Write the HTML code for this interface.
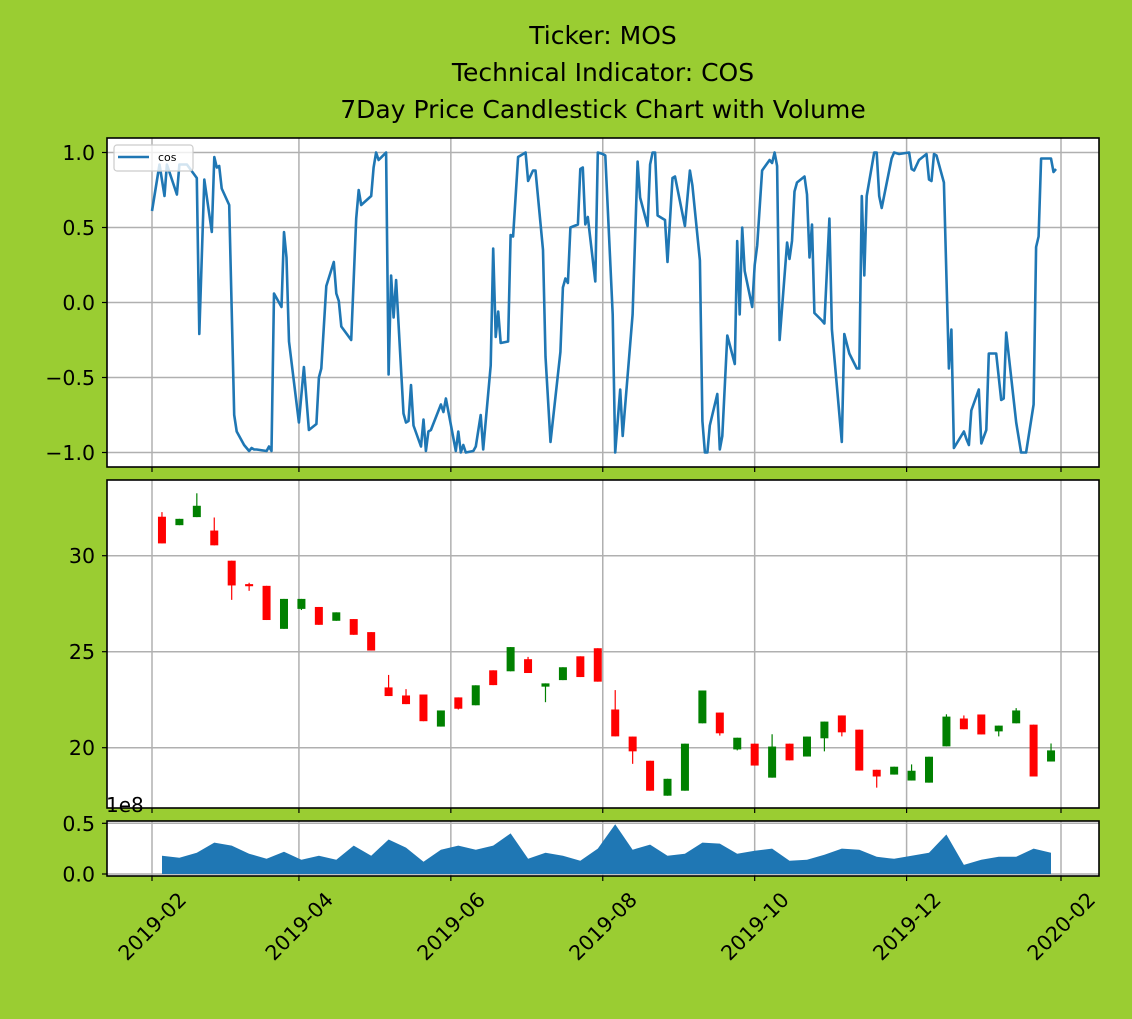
<!DOCTYPE html>
<html><head><meta charset="utf-8"><style>
html,body{margin:0;padding:0;background:#9acd32;}
svg{display:block;font-family:"DejaVu Sans","Liberation Sans",sans-serif;}
</style></head><body>
<svg id="chart" width="1132" height="1019" viewBox="0 0 1132 1019" xmlns="http://www.w3.org/2000/svg">
<rect x="0" y="0" width="1132" height="1019" fill="#9acd32"/>
<g font-size="25" text-anchor="middle" fill="#000">
<text x="603" y="44">Ticker: MOS</text>
<text x="603" y="81">Technical Indicator: COS</text>
<text x="603" y="118">7Day Price Candlestick Chart with Volume</text>
</g>
<g id="root"></g>
</svg>
<script>
// ---- data ----
const cosDays=[31,34,36,37,38,41,42,45,49,50,52,55,56,57,58,59,62,64,65,68,70,71,72,73,77,78,79,80,83,84,85,86,90,92,94,97,98,99,101,104,105,106,107,111,113,114,115,119,120,121,122,125,126,127,128,129,132,133,134,135,136,139,140,141,142,143,147,148,149,153,154,155,156,157,160,161,163,164,167,168,169,170,171,174,175,176,178,181,182,184,185,188,189,191,195,196,197,198,199,202,203,204,205,206,209,210,212,213,216,217,219,220,224,226,227,230,231,232,233,234,237,238,240,241,245,247,248,251,252,253,254,255,258,259,260,262,265,266,267,268,269,272,273,274,276,279,280,281,282,283,286,287,288,289,290,293,294,295,296,297,300,301,303,304,308,309,311,314,315,316,317,318,321,322,323,324,328,329,331,335,336,337,339,342,343,344,345,346,349,351,352,353,357,358,359,360,363,364,366,367,370,372,373,374,378,380,382,385,386,387,388,392,393,394];
const cosVals=[.61,.92,.71,.92,.87,.72,.92,.92,.83,-.21,.82,.47,.97,.90,.91,.76,.65,-.75,-.86,-.95,-.99,-.97,-.98,-.98,-.99,-.96,-.99,.06,-.03,.47,.30,-.26,-.80,-.43,-.85,-.81,-.50,-.44,.11,.27,.06,.01,-.16,-.25,.56,.75,.65,.71,.90,1.0,.95,1.0,-.48,.18,-.10,.15,-.74,-.80,-.79,-.55,-.82,-.96,-.78,-.99,-.86,-.85,-.68,-.73,-.64,-.99,-.86,-1,-.95,-1,-.99,-.96,-.75,-.98,-.42,.36,-.23,-.06,-.27,-.26,.45,.44,.97,1.0,.81,.88,.88,.35,-.36,-.93,-.33,.10,.16,.13,.50,.52,.89,.90,.52,.57,.14,1.0,.99,.98,-.08,-1,-.58,-.89,-.08,.94,.70,.51,.92,1.0,1.0,.58,.55,.27,.83,.84,.51,.88,.78,.28,-.79,-1,-1,-.82,-.61,-.98,-.89,-.22,-.41,.41,-.08,.50,.21,-.03,.25,.38,.88,.95,.93,1.0,.91,-.25,.40,.29,.41,.74,.80,.84,.72,.30,.52,-.07,-.12,-.14,.56,-.18,-.93,-.21,-.34,-.44,-.44,.71,.18,.71,1.0,1.0,.71,.63,.96,1.0,.99,1.0,.89,.88,.95,.99,.82,.81,.99,.98,.80,-.44,-.18,-.97,-.86,-.91,-.95,-.72,-.58,-.94,-.85,-.34,-.34,-.65,-.64,-.20,-.80,-1,-1,-.68,.37,.44,.96,.96,.87,.89];
const candleStartDay=35; // weekly candles, days since 2019-01-01
const opens =[32.03,31.59,32.01,31.31,29.74,28.52,28.43,26.19,27.23,27.33,26.61,26.70,26.02,23.14,22.72,22.77,21.10,22.62,22.21,24.03,23.98,24.61,23.18,23.52,24.76,25.18,21.99,20.58,19.32,17.50,17.76,21.27,21.83,19.91,20.21,18.44,20.21,19.54,20.49,21.68,20.94,18.85,18.60,18.29,18.18,20.07,21.52,21.73,20.85,21.27,21.20,19.28];
const closes=[30.64,31.92,32.60,30.54,28.45,28.41,26.65,27.75,27.75,26.40,27.05,25.88,25.06,22.69,22.27,21.38,21.94,22.03,23.25,23.26,25.24,23.89,23.35,24.19,23.68,23.44,20.59,19.81,17.76,18.38,20.21,22.98,20.75,20.52,19.07,20.06,19.34,20.58,21.36,20.80,18.81,18.50,19.01,18.80,19.53,21.62,20.96,20.69,21.15,21.94,18.50,19.86];
const highs =[32.27,31.92,33.25,31.99,29.74,28.59,28.43,27.75,27.75,27.33,27.05,26.70,26.02,23.79,23.05,22.77,21.94,22.62,23.25,24.03,25.24,24.73,23.35,24.19,24.76,25.18,23.00,20.58,19.32,18.38,20.21,22.98,21.83,20.52,20.21,20.70,20.21,20.58,21.36,21.68,20.94,18.85,19.01,19.13,19.53,21.74,21.68,21.73,21.15,22.06,21.20,20.22];
const lows  =[30.64,31.59,32.01,30.54,27.70,28.17,26.65,26.19,27.17,26.40,26.61,25.88,25.06,22.69,22.27,21.38,21.10,21.99,22.21,23.26,23.98,23.89,22.37,23.52,23.68,23.44,20.59,19.16,17.76,17.50,17.76,21.27,20.63,19.86,19.07,18.44,19.34,19.54,19.81,20.59,18.81,17.92,18.60,18.29,18.18,20.07,20.96,20.69,20.59,21.27,18.50,19.28];
const volumes=[.18,.16,.21,.31,.28,.20,.15,.22,.14,.18,.14,.28,.18,.34,.26,.12,.24,.28,.24,.28,.40,.15,.21,.18,.13,.25,.49,.24,.29,.18,.20,.31,.30,.20,.23,.25,.13,.14,.19,.25,.24,.17,.15,.18,.21,.39,.09,.14,.17,.17,.25,.21];
const xTickDays=[31,90,151,212,273,334,396];
const xTickLabels=["2019-02","2019-04","2019-06","2019-08","2019-10","2019-12","2020-02"];
const cosTicks=[1.0,0.5,0.0,-0.5,-1.0];
const cosTickLabels=["1.0","0.5","0.0","\u22120.5","\u22121.0"];
const priceTicks=[30,25,20];
const priceTickLabels=["30","25","20"];
const volTicks=[0.5,0.0];
const volTickLabels=["0.5","0.0"];

// ---- axes ----
const NS="http://www.w3.org/2000/svg";
const root=document.getElementById('root');
const L=107,R=1099,FS=20.5;
const P1={t:138,b:467}, P2={t:480,b:808}, P3={t:821,b:876};
const xS=d=>152+(d-31)*2.4904;
const yCos=v=>302.5-v*150;
const yPrice=p=>555.7-(p-30)*19.2;
const yVol=v=>874-v*101.4;
function mk(tag,attrs,parent){const e=document.createElementNS(NS,tag);for(const k in attrs)e.setAttribute(k,attrs[k]);(parent||root).appendChild(e);return e;}

function panel(P,name,yTicks,yLabels,yf){
  const g=mk('g',{});
  
  
  const bg=mk('rect',{x:L,y:P.t,width:R-L,height:P.b-P.t,fill:'#fff'},g);
  
  
  const grid=mk('g',{stroke:'#b0b0b0','stroke-width':1.5},g);
  
  
  xTickDays.forEach(d=>{mk('line',{x1:xS(d),x2:xS(d),y1:P.t,y2:P.b},grid);});
  yTicks.forEach(v=>{mk('line',{x1:L,x2:R,y1:yf(v),y2:yf(v)},grid);});
  const yt=mk('g',{},g);
  
  
  yTicks.forEach((v,i)=>{
    mk('line',{x1:L-5,x2:L,y1:yf(v),y2:yf(v),stroke:'#000','stroke-width':1.2},yt);
    const t=mk('text',{x:L-12,y:yf(v)+7.5,'font-size':FS,'text-anchor':'end',fill:'#000'},yt);
    
    
    t.textContent=yLabels[i];
  });
  const xt=mk('g',{},g);
  
  
  xTickDays.forEach(d=>{mk('line',{x1:xS(d),x2:xS(d),y1:P.b,y2:P.b+5,stroke:'#000','stroke-width':1.2},xt);});
  return g;
}
function frame(P,g){
  const f=mk('rect',{x:L,y:P.t,width:R-L,height:P.b-P.t,fill:'none',stroke:'#000','stroke-width':1.6},g);
  
  
}

// Panel 1: COS
const g1=panel(P1,'cos-panel',cosTicks,cosTickLabels,yCos);
const cp=mk('clipPath',{id:'c1'});mk('rect',{x:L,y:P1.t,width:R-L,height:P1.b-P1.t},cp);
let d='';cosDays.forEach((x,i)=>{d+=(i?'L':'M')+xS(x).toFixed(1)+','+yCos(cosVals[i]).toFixed(1);});
const cosLine=mk('path',{d:d,fill:'none',stroke:'#1f77b4','stroke-width':2.6,'stroke-linejoin':'round','clip-path':'url(#c1)'},g1);


const lg=mk('g',{},g1);


mk('rect',{x:114,y:145,width:79,height:26,rx:3,fill:'#fff','fill-opacity':0.8,stroke:'#ccc','stroke-width':1.2},lg);
mk('line',{x1:118,x2:149,y1:157,y2:157,stroke:'#1f77b4','stroke-width':2.6},lg);
const lt=mk('text',{x:158,y:161,'font-size':11,fill:'#000'},lg);


lt.textContent='cos';
frame(P1,g1);

// Panel 2: candles
const g2=panel(P2,'price-panel',priceTicks,priceTickLabels,yPrice);
opens.forEach((o,i)=>{
  const c=closes[i],x=xS(candleStartDay+7*i),col=c>=o?'#008000':'#ff0000';
  const cg=mk('g',{},g2);
  
  
  mk('line',{x1:x,x2:x,y1:yPrice(highs[i]),y2:yPrice(lows[i]),stroke:col,'stroke-width':1.2},cg);
  const top=yPrice(Math.max(o,c)),bot=yPrice(Math.min(o,c));
  mk('rect',{x:x-4,y:top,width:8,height:Math.max(bot-top,1),fill:col},cg);
});
frame(P2,g2);
const e8=mk('text',{x:106,y:812,'font-size':20,fill:'#000'});


e8.textContent='1e8';

// Panel 3: volume
const g3=panel(P3,'volume-panel',volTicks,volTickLabels,yVol);
let va='M'+xS(candleStartDay).toFixed(1)+','+yVol(0);
volumes.forEach((v,i)=>{va+='L'+xS(candleStartDay+7*i).toFixed(1)+','+yVol(v).toFixed(1);});
va+='L'+xS(candleStartDay+7*(volumes.length-1)).toFixed(1)+','+yVol(0)+'Z';
const area=mk('path',{d:va,fill:'#1f77b4'},g3);


frame(P3,g3);

// x tick labels
const xl=mk('g',{});


xTickDays.forEach((dd,i)=>{
  const x=xS(dd),cy=926;
  const t=mk('text',{x:x,y:cy+7.5,'font-size':FS,'text-anchor':'middle',fill:'#000',transform:'rotate(-45 '+x+' '+cy+')'},xl);
  
  
  t.textContent=xTickLabels[i];
});
</script>
</body></html>
